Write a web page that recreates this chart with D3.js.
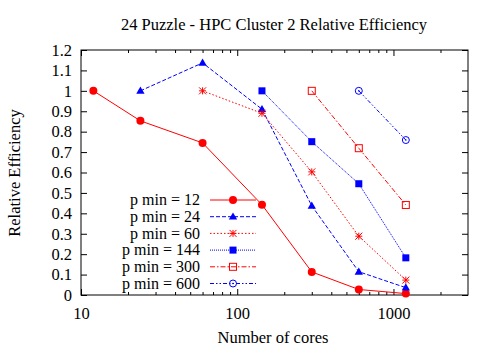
<!DOCTYPE html>
<html>
<head>
<meta charset="utf-8">
<script src="https://cdn.jsdelivr.net/npm/d3@7"></script>
<style>
body { margin: 0; background: #fff; }
text { font-family: "Liberation Serif", "Times New Roman", serif; fill: #000; }
</style>
</head>
<body>
<script>

// data
var cores = [12, 24, 60, 144, 300, 600, 1200];
var pmin12 = [1.0, 0.853, 0.745, 0.442, 0.113, 0.027, 0.007];
var pmin24 = [1.0, 1.137, 0.910, 0.437, 0.114, 0.036];
var pmin60 = [1.0, 0.890, 0.603, 0.288, 0.073];
var pmin144 = [1.0, 0.751, 0.545, 0.182];
var pmin300 = [1.0, 0.719, 0.441];
var pmin600 = [1.0, 0.759];
var seriesNames = ["p min = 12", "p min = 24", "p min = 60", "p min = 144", "p min = 300", "p min = 600"];
var yTicks = [0, 0.1, 0.2, 0.3, 0.4, 0.5, 0.6, 0.7, 0.8, 0.9, 1, 1.1, 1.2];
var xTicks = [10, 100, 1000];
var xMinor = [20, 30, 40, 50, 60, 70, 80, 90, 200, 300, 400, 500, 600, 700, 800, 900, 2000];

var W = 498, H = 349;
var margin = {top: 50, right: 30, bottom: 54, left: 81};
var fs = 16.5;

var svg = d3.select("body").append("svg").attr("width", W).attr("height", H);

var x = d3.scaleLog().domain([10, 3000]).range([margin.left, W - margin.right]);
var y = d3.scaleLinear().domain([0, 1.2]).range([H - margin.bottom, margin.top]);

var styles = [
  {color: "#ff0000", dash: null, mark: "fcircle"},
  {color: "#0000ff", dash: "4,2", mark: "triangle"},
  {color: "#ff0000", dash: "1.5,2", mark: "star"},
  {color: "#0000ff", dash: "1,1", mark: "fsquare"},
  {color: "#ff0000", dash: "5,2,1.5,2", mark: "osquare"},
  {color: "#0000ff", dash: "4,2,1.5,2,1.5,2", mark: "ocircle"}
];

var allSeries = [pmin12, pmin24, pmin60, pmin144, pmin300, pmin600].map(function(vals, i) {
  return {name: seriesNames[i], style: styles[i],
    points: vals.map(function(v, j) { return {x: cores[i + j], y: v}; })};
});

// axes, ticks on the inside, mirrored
svg.append("g").attr("transform", "translate(" + margin.left + ",0)")
  .call(d3.axisLeft(y).tickValues(yTicks).tickSize(-6).tickPadding(9).tickFormat(d3.format("~g")));
svg.append("g").attr("transform", "translate(" + (W - margin.right) + ",0)")
  .call(d3.axisRight(y).tickValues(yTicks).tickSize(-6).tickFormat(""));
svg.append("g").attr("transform", "translate(0," + (H - margin.bottom) + ")")
  .call(d3.axisBottom(x).tickValues(xTicks).tickSize(-6).tickPadding(12).tickFormat(d3.format("d")));
svg.append("g").attr("transform", "translate(0," + (H - margin.bottom) + ")")
  .call(d3.axisBottom(x).tickValues(xMinor).tickSize(-3).tickFormat(""));
svg.append("g").attr("transform", "translate(0," + margin.top + ")")
  .call(d3.axisTop(x).tickValues(xTicks).tickSize(-6).tickFormat(""));
svg.append("g").attr("transform", "translate(0," + margin.top + ")")
  .call(d3.axisTop(x).tickValues(xMinor).tickSize(-3).tickFormat(""));

svg.selectAll(".domain").remove();
svg.selectAll(".tick line").attr("stroke", "#000");
svg.selectAll(".tick text").attr("font-size", fs).style("font-family", "'Liberation Serif', serif");

svg.append("rect")
  .attr("x", margin.left).attr("y", margin.top)
  .attr("width", W - margin.right - margin.left).attr("height", H - margin.bottom - margin.top)
  .attr("fill", "none").attr("stroke", "#000").attr("stroke-width", 1);

function drawMark(g, kind, cx, cy, color) {
  var s;
  if (kind == "fcircle") {
    g.append("circle").attr("cx", cx).attr("cy", cy).attr("r", 4).attr("fill", color);
  } else if (kind == "triangle") {
    s = d3.symbol().type(d3.symbolTriangle).size(30);
    g.append("path").attr("d", s()).attr("transform", "translate(" + cx + "," + (cy + 0.5) + ")").attr("fill", color);
  } else if (kind == "star") {
    var r = 3.5;
    g.append("path")
      .attr("d", "M" + (cx - r) + "," + cy + "H" + (cx + r) + "M" + cx + "," + (cy - r) + "V" + (cy + r) +
        "M" + (cx - r) + "," + (cy - r) + "L" + (cx + r) + "," + (cy + r) +
        "M" + (cx - r) + "," + (cy + r) + "L" + (cx + r) + "," + (cy - r))
      .attr("stroke", color).attr("stroke-width", 1).attr("fill", "none");
  } else if (kind == "fsquare") {
    g.append("rect").attr("x", cx - 3.5).attr("y", cy - 3.5).attr("width", 7).attr("height", 7).attr("fill", color);
  } else if (kind == "osquare") {
    g.append("rect").attr("x", cx - 3.5).attr("y", cy - 3.5).attr("width", 7).attr("height", 7)
      .attr("fill", "none").attr("stroke", color).attr("stroke-width", 1);
  } else if (kind == "ocircle") {
    g.append("circle").attr("cx", cx).attr("cy", cy).attr("r", 3.5)
      .attr("fill", "none").attr("stroke", color).attr("stroke-width", 1);
    g.append("circle").attr("cx", cx).attr("cy", cy).attr("r", 0.8).attr("fill", color);
  }
}

var line = d3.line().x(function(d) { return x(d.x); }).y(function(d) { return y(d.y); });

allSeries.forEach(function(s) {
  var g = svg.append("g");
  g.append("path").datum(s.points).attr("d", line)
    .attr("fill", "none").attr("stroke", s.style.color).attr("stroke-width", 1)
    .attr("stroke-dasharray", s.style.dash);
  s.points.forEach(function(p) { drawMark(g, s.style.mark, x(p.x), y(p.y), s.style.color); });
});

// legend
var legend = svg.selectAll(".legend").data(allSeries).enter().append("g")
  .attr("class", "legend")
  .attr("transform", function(d, i) { return "translate(0," + (200 + i * 16.7) + ")"; });

legend.append("text").attr("x", 200).attr("y", 0).attr("dy", "0.32em")
  .attr("text-anchor", "end").attr("font-size", 16)
  .text(function(d) { return d.name; });

legend.append("line").attr("x1", 210).attr("x2", 256).attr("y1", 0).attr("y2", 0)
  .attr("stroke", function(d) { return d.style.color; })
  .attr("stroke-dasharray", function(d) { return d.style.dash; });

legend.each(function(d) { drawMark(d3.select(this), d.style.mark, 233, 0, d.style.color); });

// titles
svg.append("text").attr("x", 274).attr("y", 30).attr("text-anchor", "middle")
  .attr("font-size", fs).text("24 Puzzle - HPC Cluster 2 Relative Efficiency");

svg.append("text").attr("x", 273).attr("y", 343).attr("text-anchor", "middle")
  .attr("font-size", fs).text("Number of cores");

svg.append("text").attr("transform", "translate(20,173) rotate(-90)")
  .attr("text-anchor", "middle").attr("font-size", fs).text("Relative Efficiency");

</script>
</body>
</html>
